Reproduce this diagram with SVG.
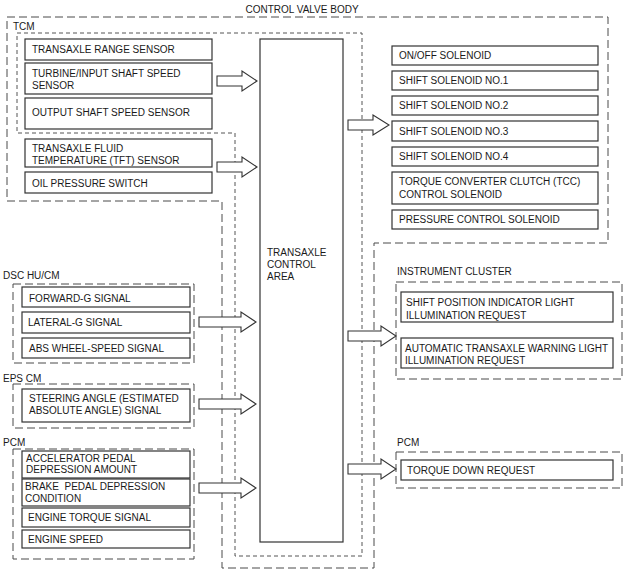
<svg xmlns="http://www.w3.org/2000/svg" width="624" height="573" viewBox="0 0 624 573">
<style>
text{font-family:"Liberation Sans",Arial,sans-serif;font-size:10px;fill:#1a1a1a}
.box{fill:#fff;stroke:#333;stroke-width:1.2}
.long{fill:none;stroke:#4a4a4a;stroke-width:1;stroke-dasharray:8,4}
.short{fill:none;stroke:#555;stroke-width:1;stroke-dasharray:4,3}
.arrow{fill:#fff;stroke:#333;stroke-width:1.1;stroke-linejoin:miter}
</style>
<rect width="624" height="573" fill="#fff"/>
<g id="control-valve-body">
<polygon class="long" points="7,17 608,17 608,243 374,243 374,568 222,568 222,201 7,201"/>
<text x="302" y="13" text-anchor="middle">CONTROL VALVE BODY</text>
</g>
<g id="tcm">
<polygon class="short" points="17,33 362,33 362,556 235,556 235,133 17,133"/>
<text x="13" y="30">TCM</text>
</g>
<g id="tcu-area">
<rect class="box" x="260" y="39" width="83" height="503"/>
<text x="267" y="256">TRANSAXLE</text>
<text x="267" y="268">CONTROL</text>
<text x="267" y="280">AREA</text>
</g>
<g id="range-sensor"><rect class="box" x="25" y="39" width="187" height="21"/><text x="32" y="53">TRANSAXLE RANGE SENSOR</text></g>
<g id="turbine-sensor"><rect class="box" x="25" y="63" width="187" height="31"/><text x="32" y="77">TURBINE/INPUT SHAFT SPEED</text><text x="32" y="89">SENSOR</text></g>
<g id="output-sensor"><rect class="box" x="25" y="98" width="187" height="31"/><text x="32" y="116">OUTPUT SHAFT SPEED SENSOR</text></g>
<g id="tft-sensor"><rect class="box" x="25" y="139" width="187" height="28"/><text x="32" y="152">TRANSAXLE FLUID</text><text x="32" y="164">TEMPERATURE (TFT) SENSOR</text></g>
<g id="oil-switch"><rect class="box" x="25" y="172" width="187" height="21"/><text x="32" y="187">OIL PRESSURE SWITCH</text></g>

<g id="dsc">
<text x="3" y="279">DSC HU/CM</text>
<rect class="long" x="13" y="284" width="181" height="79"/>
<rect class="box" x="22" y="287" width="168" height="20"/><text x="29" y="302">FORWARD-G SIGNAL</text>
<rect class="box" x="22" y="312" width="168" height="21"/><text x="28" y="326">LATERAL-G SIGNAL</text>
<rect class="box" x="22" y="338" width="168" height="20"/><text x="29" y="352">ABS WHEEL-SPEED SIGNAL</text>
</g>
<g id="eps">
<text x="3" y="382">EPS CM</text>
<rect class="long" x="13" y="384" width="181" height="44"/>
<rect class="box" x="22" y="389" width="168" height="33"/><text x="29" y="402">STEERING ANGLE (ESTIMATED</text><text x="29" y="414">ABSOLUTE ANGLE) SIGNAL</text>
</g>
<g id="pcm-in">
<text x="3" y="446">PCM</text>
<rect class="long" x="13" y="449" width="181" height="110"/>
<rect class="box" x="22" y="451" width="168" height="27"/><text x="26" y="462">ACCELERATOR PEDAL</text><text x="26" y="473">DEPRESSION AMOUNT</text>
<rect class="box" x="22" y="479" width="168" height="27"/><text x="25" y="490" style="white-space:pre">BRAKE  PEDAL DEPRESSION</text><text x="25" y="502">CONDITION</text>
<rect class="box" x="22" y="508" width="168" height="19"/><text x="28" y="521">ENGINE TORQUE SIGNAL</text>
<rect class="box" x="22" y="530" width="168" height="18"/><text x="28" y="543">ENGINE SPEED</text>
</g>

<g id="onoff"><rect class="box" x="392" y="46" width="206" height="19"/><text x="399" y="59">ON/OFF SOLENOID</text></g>
<g id="ss1"><rect class="box" x="392" y="71" width="206" height="19"/><text x="399" y="84">SHIFT SOLENOID NO.1</text></g>
<g id="ss2"><rect class="box" x="392" y="96" width="206" height="19"/><text x="399" y="109">SHIFT SOLENOID NO.2</text></g>
<g id="ss3"><rect class="box" x="392" y="121" width="206" height="20"/><text x="399" y="135">SHIFT SOLENOID NO.3</text></g>
<g id="ss4"><rect class="box" x="392" y="147" width="206" height="19"/><text x="399" y="160">SHIFT SOLENOID NO.4</text></g>
<g id="tcc"><rect class="box" x="392" y="172" width="206" height="32"/><text x="399" y="185">TORQUE CONVERTER CLUTCH (TCC)</text><text x="399" y="198">CONTROL SOLENOID</text></g>
<g id="pcs"><rect class="box" x="392" y="210" width="206" height="19"/><text x="399" y="223">PRESSURE CONTROL SOLENOID</text></g>

<g id="instrument-cluster">
<text x="397" y="275">INSTRUMENT CLUSTER</text>
<rect class="long" x="396" y="282" width="226" height="97"/>
<rect class="box" x="401" y="292" width="212" height="30"/><text x="406" y="306">SHIFT POSITION INDICATOR LIGHT</text><text x="406" y="319">ILLUMINATION REQUEST</text>
<rect class="box" x="401" y="338" width="212" height="30"/><text x="405" y="352">AUTOMATIC TRANSAXLE WARNING LIGHT</text><text x="405" y="364">ILLUMINATION REQUEST</text>
</g>
<g id="pcm-out">
<text x="397" y="446">PCM</text>
<rect class="long" x="396" y="452" width="226" height="36"/>
<rect class="box" x="401" y="460" width="212" height="20"/><text x="407" y="474">TORQUE DOWN REQUEST</text>
</g>

<g id="connectors">
<polygon class="arrow" points="217,76 242,76 242,71 257,81 242,91 242,86 217,86"/>
<polygon class="arrow" points="217,162 242,162 242,157 257,167 242,177 242,172 217,172"/>
<polygon class="arrow" points="199,317 241,317 241,312 256,322 241,332 241,327 199,327"/>
<polygon class="arrow" points="199,399 241,399 241,394 256,404 241,414 241,409 199,409"/>
<polygon class="arrow" points="199,483 241,483 241,478 256,488 241,498 241,493 199,493"/>
<polygon class="arrow" points="348,120 373,120 373,115 389,125 373,135 373,130 348,130"/>
<polygon class="arrow" points="348,331 381,331 381,326 396,336 381,346 381,341 348,341"/>
<polygon class="arrow" points="348,464 381,464 381,459 396,469 381,479 381,474 348,474"/>
</g>
</svg>
